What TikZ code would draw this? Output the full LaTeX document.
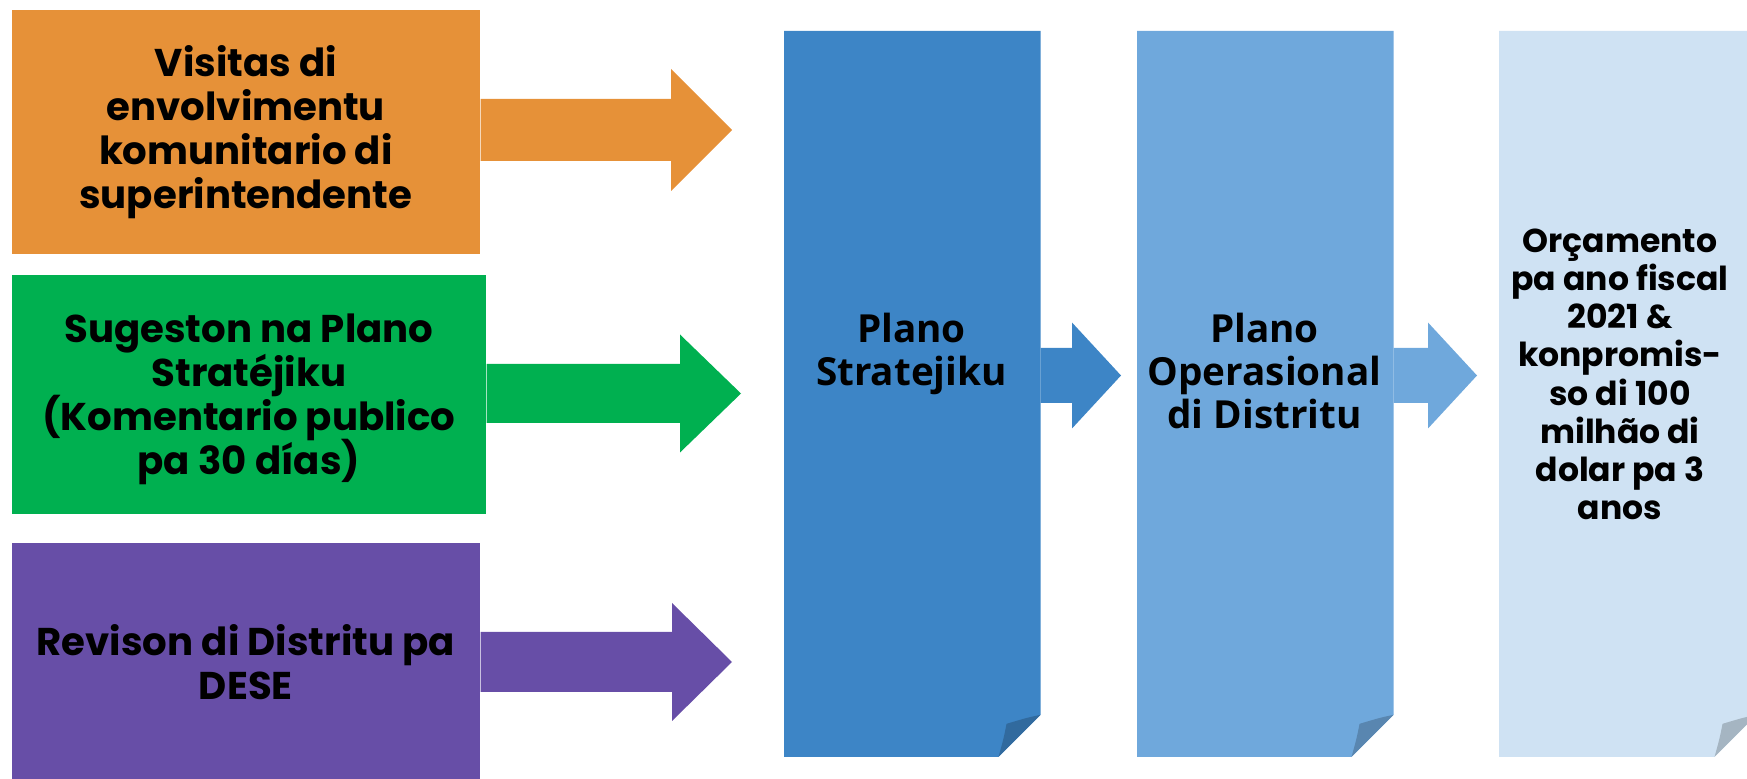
\documentclass[tikz,border=0pt]{standalone}
\usepackage{fontspec}
\setmainfont{Poppins}
\newfontfamily\opensans{Open Sans}
\usetikzlibrary{positioning,calc}

\definecolor{vorange}{HTML}{E69138}
\definecolor{vgreen}{HTML}{00B050}
\definecolor{vpurple}{HTML}{674EA7}
\definecolor{vblue}{HTML}{3D85C6}
\definecolor{vsky}{HTML}{6FA8DC}
\definecolor{vpale}{HTML}{CFE2F3}

\newcommand{\tightlines}{\lineskiplimit-100pt\relax}
% colour, start node, tip, head length, half shaft, half head
\newcommand{\fatarrow}[6]{%
  \fill[#1] (#2 |- #3) ++(0,-#5) -- ($(#3)+(-#4,-#5)$) -- ($(#3)+(-#4,-#6)$) -- (#3)
        -- ($(#3)+(-#4,#6)$) -- ($(#3)+(-#4,#5)$) -- ($(#2 |- #3)+(0,#5)$) -- cycle;}
% sheet with a turned-up corner
\newcommand{\foldsheet}[2]{%
  \fill[#2] (#1.north west) -- (#1.north east) -- ($(#1.south east)+(0,-42)$)
        -- ($(#1.south east)+(-42,0)$) -- (#1.south west) -- cycle;
  \fill[#2!80!black] ($(#1.south east)+(0,-42)$) .. controls ($(#1.south east)+(-14,-39)$) .. ($(#1.south east)+(-34,-33)$)
        .. controls ($(#1.south east)+(-37,-18)$) .. ($(#1.south east)+(-42,0)$) -- cycle;}

\begin{document}
\begin{tikzpicture}[x=0.01cm,y=-0.01cm]
  \tikzstyle{source}=[rectangle, inner sep=0pt, anchor=north west, align=center,
    font=\fontsize{11}{12.5}\selectfont\bfseries\tightlines]
  \tikzstyle{sheet}=[rectangle, inner sep=0pt, anchor=north west,
    minimum width=2.55cm, minimum height=7.24cm]
  \tikzstyle{sheettext}=[inner sep=0pt, anchor=north, align=center,
    font=\opensans\fontsize{11}{12.3}\selectfont\bfseries\tightlines]
  \useasboundingbox (0,0) rectangle (1747,779);
  \clip (0,0) rectangle (1747,779);

  % inputs
  \node[source, fill=vorange, minimum width=4.68cm, minimum height=2.44cm] (visitas) at (11,9)
    {Visitas di\\envolvimentu\\komunitario di\\superintendente};
  \node[source, fill=vgreen, minimum width=4.74cm, minimum height=2.39cm] (sugeston) at (11,274)
    {\rule{0pt}{11pt}Sugeston na Plano\\Stratéjiku\\(Komentario publico\\pa 30 días)};
  \node[source, fill=vpurple, minimum width=4.68cm, minimum height=2.38cm] (revison) at (11,542)
    {Revison di Distritu pa\\DESE};

  \coordinate (tipV) at (732,130);
  \coordinate (tipS) at (741,393.5);
  \coordinate (tipR) at (732,662);
  \fatarrow{vorange}{visitas.east}{tipV}{61}{31}{61}
  \fatarrow{vgreen}{sugeston.east}{tipS}{61}{29.5}{59}
  \fatarrow{vpurple}{revison.east}{tipR}{60}{30}{59}

  % plans
  \node[sheet] (plano) at (784,31) {};
  \node[sheet] (operasional) at (1137,31) {};
  \node[sheet, minimum width=2.56cm] (orsamentu) at (1499,31) {};
  \foldsheet{plano}{vblue}
  \foldsheet{operasional}{vsky}
  \foldsheet{orsamentu}{vpale}

  \coordinate (tipP) at (1121,375.5);
  \coordinate (tipO) at (1477,375.5);
  \fatarrow{vblue}{plano.east}{tipP}{49}{27.5}{53}
  \fatarrow{vsky}{operasional.east}{tipO}{49}{27.5}{53}

  \node[sheettext] (planotxt) at (911.5,312) {Plano\\Stratejiku};
  \node[sheettext] (operasionaltxt) at (1264.5,312) {Plano\\Operasional\\di Distritu};
  \node[sheettext, font=\fontsize{9.4}{10.87}\selectfont\bfseries\tightlines] (orsamentutxt) at (1620,228)
    {Orçamento\\pa ano fiscal\\2021 \&\\konpromis-\\so di 100\\milhão di\\dolar pa 3\\anos};
\end{tikzpicture}
\end{document}
